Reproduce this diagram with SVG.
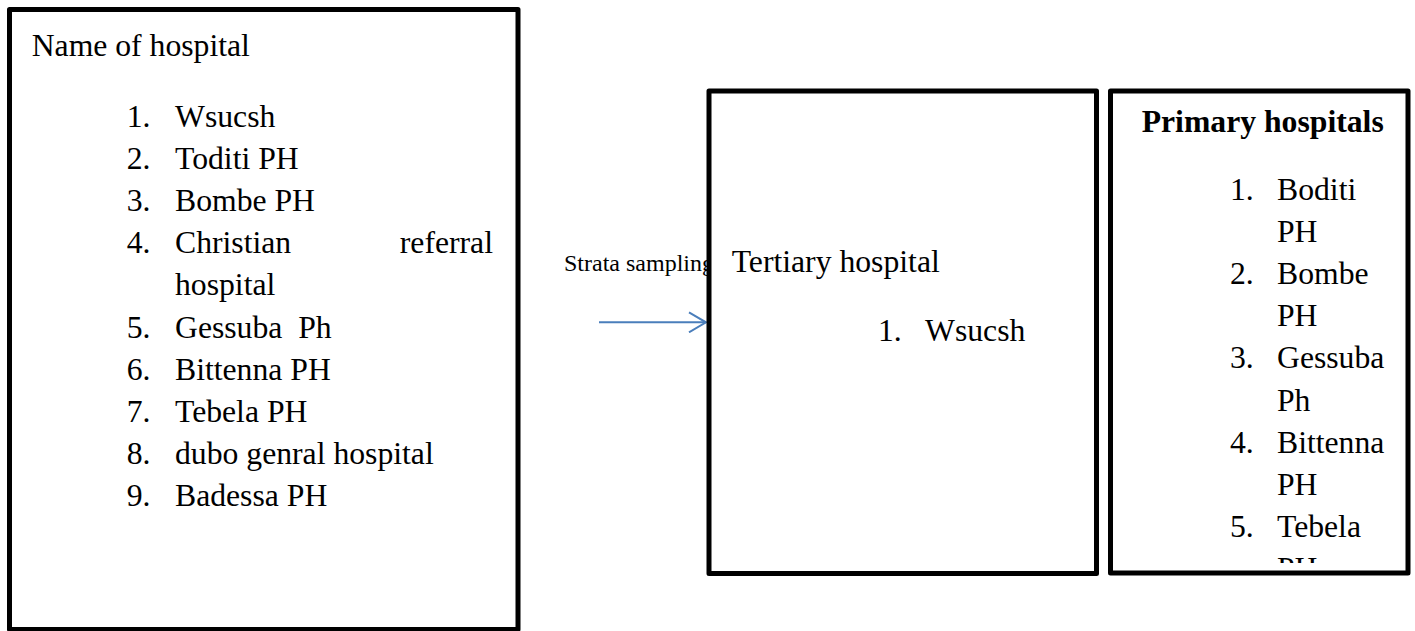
<svg xmlns="http://www.w3.org/2000/svg" width="1415" height="631" viewBox="0 0 1415 631">
<style>
.box{fill:#fff;stroke:#000;stroke-width:5;stroke-linejoin:round}
.t{font-family:"Liberation Serif","Times New Roman",serif;font-size:31.7px;fill:#000;white-space:pre}
.b{font-weight:bold}
.s{font-family:"Liberation Serif","Times New Roman",serif;font-size:24px;fill:#000}
.conn{stroke:#4a7ebb;stroke-width:2;fill:none}
</style>
<defs>
<marker id="open" viewBox="0 0 20 22" refX="18" refY="11" markerWidth="20" markerHeight="22" markerUnits="userSpaceOnUse" orient="auto">
<path d="M1,1 L18,11 L1,21" fill="none" stroke="#4a7ebb" stroke-width="2"/>
</marker>
<clipPath id="clip3"><rect x="1110" y="91" width="300" height="472"/></clipPath>
</defs>
<rect width="1415" height="631" fill="#fff"/>
<g id="all-hospitals">
<rect class="box" x="9.5" y="9.5" width="508.5" height="620"/>
<text class="t" x="31.7" y="56">Name of hospital</text>
<text class="t" x="126.7" y="126.5">1.</text><text class="t" x="175" y="126.5">Wsucsh</text>
<text class="t" x="126.7" y="168.7">2.</text><text class="t" x="175" y="168.7">Toditi PH</text>
<text class="t" x="126.7" y="210.9">3.</text><text class="t" x="175" y="210.9">Bombe PH</text>
<text class="t" x="126.7" y="253.1">4.</text><text class="t" x="175" y="253.1">Christian</text><text class="t" x="493" y="253.1" text-anchor="end">referral</text>
<text class="t" x="175" y="295.3">hospital</text>
<text class="t" x="126.7" y="337.5">5.</text><text class="t" x="175" y="337.5">Gessuba  Ph</text>
<text class="t" x="126.7" y="379.7">6.</text><text class="t" x="175" y="379.7">Bittenna PH</text>
<text class="t" x="126.7" y="421.9">7.</text><text class="t" x="175" y="421.9">Tebela PH</text>
<text class="t" x="126.7" y="464.1">8.</text><text class="t" x="175" y="464.1">dubo genral hospital</text>
<text class="t" x="126.7" y="506.3">9.</text><text class="t" x="175" y="506.3">Badessa PH</text>
</g>
<g id="connectors">
<text class="s" x="564" y="270.7">Strata sampling</text>
<line class="conn" x1="599" y1="322.3" x2="706" y2="322.3" marker-end="url(#open)"/>
</g>
<g id="tertiary">
<rect class="box" x="709" y="91" width="387.5" height="482.5"/>
<text class="t" x="731.7" y="272">Tertiary hospital</text>
<text class="t" x="878" y="340.7">1.</text><text class="t" x="925" y="340.7">Wsucsh</text>
</g>
<g id="primary">
<rect class="box" x="1110.5" y="91" width="297.5" height="482"/>
<text class="t b" x="1141.7" y="131.7">Primary hospitals</text>
<g clip-path="url(#clip3)">
<text class="t" x="1230" y="199.5">1.</text><text class="t" x="1277" y="199.5">Boditi</text>
<text class="t" x="1277" y="241.7">PH</text>
<text class="t" x="1230" y="283.9">2.</text><text class="t" x="1277" y="283.9">Bombe</text>
<text class="t" x="1277" y="326.1">PH</text>
<text class="t" x="1230" y="368.3">3.</text><text class="t" x="1277" y="368.3">Gessuba</text>
<text class="t" x="1277" y="410.5">Ph</text>
<text class="t" x="1230" y="452.7">4.</text><text class="t" x="1277" y="452.7">Bittenna</text>
<text class="t" x="1277" y="494.9">PH</text>
<text class="t" x="1230" y="537.1">5.</text><text class="t" x="1277" y="537.1">Tebela</text>
<text class="t" x="1277" y="579.3">PH</text>
</g>
</g>
</svg>
